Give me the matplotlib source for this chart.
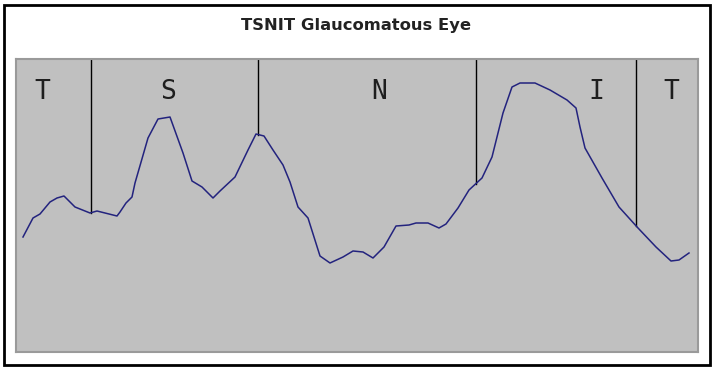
import numpy as np
import matplotlib
matplotlib.use('Agg')
import matplotlib.pyplot as plt
from matplotlib.patches import Rectangle

# TSNIT profile (position along scan, thickness in plot units)
pos = [7, 17, 24, 34, 41, 48, 59, 74, 81, 101, 104, 110, 116, 119, 132, 142,
       154, 167, 176, 186, 197, 204, 219, 232, 240, 248, 257, 267, 274, 282,
       292, 304, 314, 327, 337, 347, 357, 368, 380, 393, 400, 412, 423, 430,
       442, 453, 466, 476, 487, 496, 504, 519, 534, 551, 560, 564, 569, 586,
       603, 622, 640, 655, 663, 673]
thick = [115, 134, 138, 150, 154, 156, 145, 139, 141, 136, 140, 149, 155, 169,
         214, 233, 235, 199, 171, 165, 154, 161, 175, 202, 218, 216, 202, 187,
         170, 145, 134, 96, 89, 95, 101, 100, 94, 105, 126, 127, 129, 129, 124,
         128, 144, 162, 174, 195, 239, 265, 269, 269, 262, 252, 244, 225, 204,
         174, 145, 124, 105, 91, 92, 99]

# sector boundaries and labels
dividers = [75, 242, 460, 620]
sectors = ['T', 'S', 'N', 'I', 'T']
sector_x = [26, 152, 363, 580, 655]

fig = plt.figure(figsize=(7.16, 3.70), dpi=100)
fig.patch.set_facecolor('white')

# outer frame
fig.patches.append(Rectangle((4 / 716, 5 / 370), 706 / 716, 360 / 370,
                             transform=fig.transFigure, fill=False,
                             edgecolor='black', linewidth=2))

fig.text(0.497, 0.93, 'TSNIT Glaucomatous Eye', ha='center', va='center',
         fontsize=11.8, fontweight='bold', color='#222222')

ax = fig.add_axes([16 / 716, 1 - 352 / 370, 681.7 / 716, 293.3 / 370])
ax.set_facecolor('#c0c0c0')
ax.set_xlim(0, 681.7)
ax.set_ylim(0, 293.3)
ax.set_xticks([])
ax.set_yticks([])
for sp in ax.spines.values():
    sp.set_edgecolor('#9a9a9a')
    sp.set_linewidth(1.5)

# dividers drop from the top down to the curve
for d in dividers:
    yc = np.interp(d, pos, thick)
    ax.plot([d, d], [yc, 293.3], color='black', linewidth=1)

ax.plot(pos, thick, color='#23237e', linewidth=1.1)

for s, xs in zip(sectors, sector_x):
    ax.text(xs, 260, s, ha='center', va='center', fontsize=19,
            family='DejaVu Sans Mono', color='#1e1e1e')

plt.savefig('out.png', dpi=100)
